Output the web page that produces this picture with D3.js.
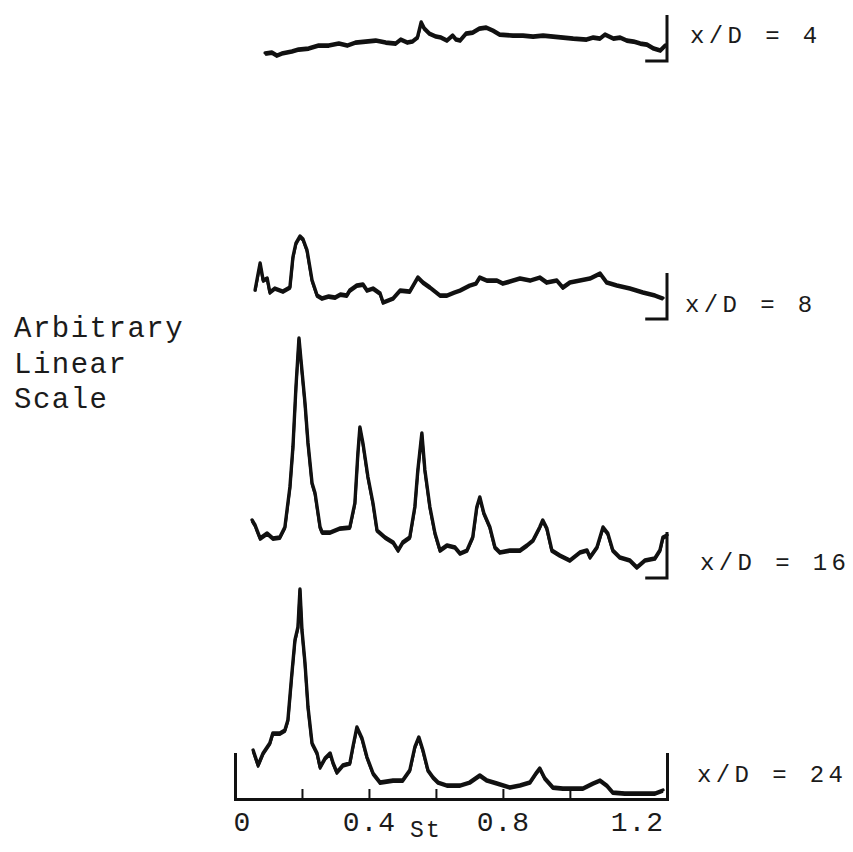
<!DOCTYPE html>
<html>
<head>
<meta charset="utf-8">
<script src="https://cdn.jsdelivr.net/npm/d3@7"></script>
<style>
  body { margin: 0; background: #fff; }
  text { font-family: "Liberation Mono", "DejaVu Sans Mono", monospace; fill: #1b1b1b; }
</style>
</head>
<body>
<div id="chart"></div>
<script>
// spectra, St vs. amplitude (arbitrary units)
var st4  = [0.09,0.11,0.125,0.14,0.17,0.19,0.22,0.25,0.28,0.31,0.335,0.36,0.39,0.42,0.45,0.48,0.495,0.515,0.53,0.545,0.556,0.565,0.58,0.60,0.615,0.633,0.65,0.66,0.672,0.69,0.71,0.73,0.75,0.77,0.79,0.83,0.86,0.89,0.92,0.95,0.98,1.01,1.05,1.07,1.09,1.105,1.13,1.15,1.17,1.19,1.21,1.23,1.25,1.27,1.285];
var amp4 = [0.8,0.9,0.6,0.8,1.0,1.2,1.3,1.6,1.6,1.8,1.6,1.9,2.0,2.1,1.9,1.8,2.2,1.9,2.0,2.4,3.9,3.3,2.8,2.5,2.4,2.1,2.6,2.2,2.1,2.8,2.9,3.3,3.4,3.1,2.7,2.6,2.6,2.5,2.6,2.5,2.4,2.3,2.2,2.4,2.3,2.7,2.3,2.4,2.1,2.0,1.8,1.7,1.3,1.1,1.6];

var st8  = [0.060,0.075,0.084,0.096,0.104,0.119,0.143,0.164,0.173,0.182,0.194,0.203,0.215,0.230,0.245,0.260,0.280,0.299,0.315,0.334,0.343,0.364,0.382,0.394,0.412,0.433,0.442,0.472,0.493,0.522,0.546,0.561,0.582,0.612,0.633,0.655,0.672,0.701,0.720,0.731,0.752,0.782,0.800,0.821,0.851,0.881,0.910,0.931,0.961,0.979,1.000,1.030,1.060,1.090,1.110,1.140,1.179,1.218,1.254,1.278];
var amp8 = [2.9,5.6,3.9,4.1,2.7,3.1,2.8,3.2,6.2,7.6,8.3,8.0,6.9,3.9,2.4,2.1,2.3,2.2,2.5,2.4,2.9,3.4,3.5,2.9,3.1,2.6,1.7,2.1,2.9,2.8,4.2,3.7,3.2,2.4,2.4,2.7,2.9,3.4,3.6,4.2,3.9,3.9,3.6,3.8,4.1,3.9,4.2,3.7,3.9,3.2,3.7,3.9,4.1,4.6,3.7,3.4,3.1,2.7,2.4,2.1];

var st16  = [0.051,0.060,0.075,0.096,0.113,0.134,0.149,0.164,0.173,0.182,0.191,0.197,0.209,0.218,0.230,0.239,0.254,0.260,0.284,0.313,0.343,0.358,0.367,0.373,0.382,0.397,0.412,0.424,0.448,0.472,0.487,0.501,0.522,0.537,0.546,0.558,0.567,0.582,0.597,0.612,0.633,0.657,0.672,0.693,0.710,0.722,0.731,0.743,0.761,0.776,0.791,0.821,0.851,0.872,0.890,0.910,0.919,0.931,0.946,0.970,1.000,1.030,1.051,1.060,1.081,1.099,1.113,1.128,1.149,1.179,1.200,1.224,1.254,1.269,1.278,1.290];
var amp16 = [5.8,5.3,4.0,4.5,4.0,4.1,5.1,9.1,13.1,19.1,24.0,21.8,17.5,13.5,9.5,8.5,5.1,4.6,4.6,5.0,5.1,7.5,12.5,15.1,13.5,10.1,7.5,4.8,4.1,3.6,2.8,3.6,4.1,7.1,10.8,14.5,10.8,7.1,4.5,2.8,3.3,3.1,2.5,2.8,4.1,7.1,8.1,6.5,5.1,3.1,2.6,2.8,2.8,3.3,3.8,5.1,5.8,5.0,2.8,2.3,1.8,2.6,2.8,2.1,3.1,5.1,4.5,2.8,2.1,1.8,1.1,1.8,2.0,2.8,4.1,4.3];

var st24  = [0.054,0.069,0.084,0.104,0.113,0.134,0.149,0.158,0.170,0.179,0.188,0.194,0.200,0.209,0.218,0.230,0.245,0.254,0.269,0.284,0.293,0.304,0.322,0.343,0.352,0.364,0.379,0.394,0.412,0.433,0.472,0.501,0.522,0.537,0.549,0.561,0.576,0.591,0.606,0.633,0.672,0.701,0.731,0.752,0.782,0.821,0.851,0.881,0.901,0.910,0.925,0.949,0.979,1.009,1.039,1.069,1.090,1.110,1.128,1.164,1.209,1.254,1.278];
var amp24 = [4.9,3.4,4.6,5.6,6.6,6.6,6.9,7.9,12.6,15.9,17.2,21.0,16.9,13.6,9.2,5.6,4.6,3.2,4.1,4.6,3.6,2.7,3.4,3.6,5.2,7.2,6.1,4.2,2.6,1.7,1.9,1.9,2.9,5.2,6.2,4.9,2.9,2.2,1.7,1.4,1.4,1.7,2.4,1.9,1.6,1.2,1.4,1.7,2.7,3.1,2.1,1.2,1.1,1.1,1.1,1.6,1.9,1.4,0.7,0.6,0.6,0.6,0.9];

var panelLabels = ["x/D = 4", "x/D = 8", "x/D = 16", "x/D = 24"];
var tickLabels = [0, 0.4, 0.8, 1.2];
var tickMarks = [0.2, 0.4, 0.6, 0.8, 1.0];
var calib = 4.6; // height of the little zero bracket, same units as the spectra

function drawSpectra(placement, w, h){
    var width = w, height = h;
    var svg = d3.select(placement).append("svg")
        .attr("width", width).attr("height", height)
        .attr("viewBox", [0, 0, width, height]);

    var x = d3.scaleLinear().domain([0, 1.29]).range([235, 667]);
    var amp = d3.scaleLinear().domain([0, 10]).range([0, 100]);

    // baselines and label spots for each trace
    var panels = [
        {st: st4,  v: amp4,  label: panelLabels[0], base: 61,  lx: 690, ly: 43},
        {st: st8,  v: amp8,  label: panelLabels[1], base: 319, lx: 685, ly: 312},
        {st: st16, v: amp16, label: panelLabels[2], base: 578, lx: 700, ly: 570},
        {st: st24, v: amp24, label: panelLabels[3], base: 799, lx: 697, ly: 782}
    ];

    var line = d3.line()
        .x(function(d) { return x(d[0]); })
        .y(function(d) { return -amp(d[1]); });

    panels.forEach(function(p, i){
        var g = svg.append("g").attr("transform", "translate(0," + p.base + ")");
        var pts = d3.zip(p.st, p.v);

        // pen trace is smudgy, so lay it down twice a hair apart
        g.append("path")
            .datum(pts)
            .attr("d", line)
            .attr("fill", "none")
            .attr("stroke", "#111")
            .attr("stroke-width", 3.4)
            .attr("stroke-linejoin", "round")
            .attr("stroke-linecap", "round");
        g.append("path")
            .datum(pts)
            .attr("d", line)
            .attr("transform", "translate(0,1.6)")
            .attr("fill", "none")
            .attr("stroke", "#111")
            .attr("stroke-width", 2.6)
            .attr("stroke-linejoin", "round");

        if (i < 3) {
            g.append("path")
                .attr("d", "M" + x(1.225) + ",0H" + x(1.29) + "V" + (-amp(calib)))
                .attr("fill", "none")
                .attr("stroke", "#111")
                .attr("stroke-width", 3);
        }

        svg.append("text")
            .attr("x", p.lx)
            .attr("y", p.ly)
            .attr("font-size", "24px")
            .attr("letter-spacing", "4.4px")
            .attr("xml:space", "preserve")
            .text(p.label);
    });

    // bottom axis with the frame ends turned up
    var base = panels[3].base;
    svg.append("g")
        .attr("transform", "translate(0," + base + ")")
        .call(d3.axisBottom(x).tickValues(tickMarks).tickSizeInner(-10)
            .tickSizeOuter(-amp(calib)).tickFormat(""))
        .call(function(g){
            g.select(".domain").attr("stroke", "#111").attr("stroke-width", 3);
            g.selectAll(".tick line").attr("stroke", "#111").attr("stroke-width", 2);
        });

    svg.append("g")
        .attr("transform", "translate(0," + base + ")")
        .call(d3.axisBottom(x).tickValues(tickLabels).tickSize(0)
            .tickFormat(function(d){ return d === 0 ? "0" : d3.format(".1f")(d); }))
        .call(function(g){
            g.select(".domain").remove();
            g.selectAll(".tick text")
                .attr("y", 32).attr("dy", 0)
                .attr("font-size", "28px")
                .attr("font-family", "Liberation Mono")
                .attr("letter-spacing", "1px")
                .attr("dx", function(d){ return d === 0 ? 7 : 0; })
                .style("fill", "#1b1b1b");
        });

    svg.append("text")
        .attr("x", x(0.57))
        .attr("y", base + 38)
        .attr("text-anchor", "middle")
        .attr("font-size", "23px")
        .attr("letter-spacing", "2px")
        .text("St");

    var ylab = svg.append("text")
        .attr("x", 14)
        .attr("font-size", "29px")
        .attr("letter-spacing", "1.5px");
    ["Arbitrary", "Linear", "Scale"].forEach(function(t, i){
        ylab.append("tspan").attr("x", 14).attr("y", 337 + i * 35.5).text(t);
    });
}

drawSpectra("#chart", 853, 852);
</script>
</body>
</html>
